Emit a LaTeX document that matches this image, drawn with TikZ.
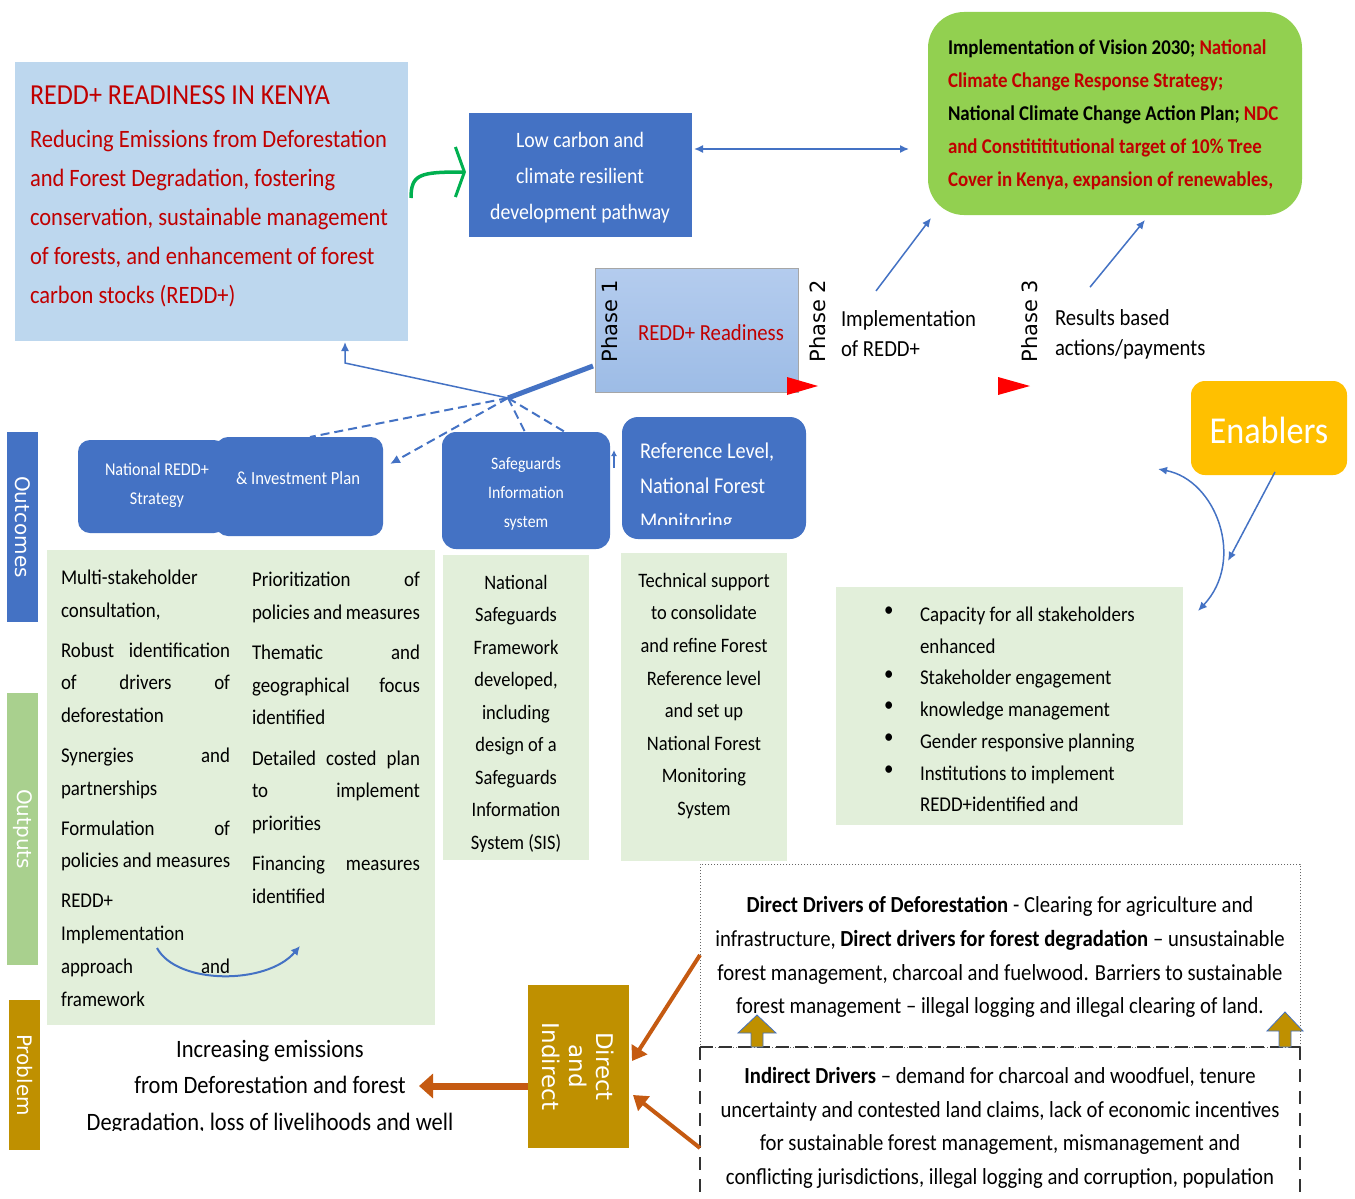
\documentclass[tikz,border=0pt]{standalone}
\usepackage{fontspec}
\setmainfont{Carlito}[FakeStretch=0.9]
\newfontfamily\phfont{DejaVu Sans}
\usetikzlibrary{arrows.meta,calc}
\definecolor{lb}{HTML}{BDD7EE}
\definecolor{db}{HTML}{4472C4}
\definecolor{rd}{HTML}{C00000}
\definecolor{gb}{HTML}{92D050}
\definecolor{og}{HTML}{E2EFDA}
\definecolor{tg}{HTML}{A9D08E}
\definecolor{gd}{HTML}{BF9000}
\definecolor{orr}{HTML}{C55A11}
\definecolor{yl}{HTML}{FFC000}
\definecolor{grn}{HTML}{00B050}
\definecolor{phA}{HTML}{B4CCEE}
\definecolor{phB}{HTML}{9DBCE6}
\begin{document}
\begin{tikzpicture}[x=1pt,y=-1pt,
  every node/.style={inner sep=0pt,outer sep=0pt},
  rect/.style={anchor=north west,draw=none},
  thinarr/.style={draw=db,line width=1.5pt,-{Latex[length=9pt,width=8pt]}},
  dsh/.style={draw=db,line width=2pt,dash pattern=on 9pt off 5pt},
  tabtxt/.style={rotate=-90,text=white,font=\phfont\fontsize{20}{20}\selectfont},
  phtxt/.style={rotate=90,font=\phfont\fontsize{21}{21}\selectfont},
  orarr/.style={draw=orr,line width=4pt,-{Triangle[length=14pt,width=18pt]}},
  gdarr/.style={fill=gd,draw=db,line width=0.8pt}
]
\useasboundingbox (0,0) rectangle (1355,1199);
\fill[white] (0,0) rectangle (1355,1199);

% ---------- top left box
\node[rect,fill=lb,minimum width=393pt,minimum height=279pt] (redd) at (15,62) {};
\node[anchor=north west,align=left,text=rd,font=\fontsize{25}{39}\selectfont] (reddtxt) at (30,86)
 {{\fontsize{29}{39}\selectfont REDD+ READINESS IN KENYA}\\[4pt]
  Reducing Emissions from Deforestation\\
  and Forest Degradation, fostering\\
  conservation, sustainable management\\
  of forests, and enhancement of forest\\
  carbon stocks (REDD+)};

% ---------- low carbon box
\node[rect,fill=db,minimum width=223pt,minimum height=124pt] (low) at (469,113) {};
\node[align=center,text=white,font=\fontsize{22}{36}\selectfont] (lowtxt) at (580,178)
 {Low carbon and\\climate resilient\\development pathway};

\draw[grn,line width=3.5pt,-{Straight Barb[length=9pt,width=50pt,line width=3pt]}]
  ($(redd.north east)+(3,136)$) .. controls ($(redd.north east)+(3,112)$) and ($(redd.north east)+(12,110)$) .. ($(low.north west)+(-3,59)$);

% ---------- green vision box
\node[rect,fill=gb,rounded corners=36pt,minimum width=374pt,minimum height=203pt] (vis) at (928,12) {};
\node[anchor=north west,align=left,font=\bfseries\fontsize{21}{33}\selectfont] (vistxt) at (948,40)
 {Implementation of Vision 2030; \textcolor{rd}{National}\\
  \textcolor{rd}{Climate Change Response Strategy;}\\
  National Climate Change Action Plan; \textcolor{rd}{NDC}\\
  \textcolor{rd}{and Constitititutional target of 10\% Tree}\\
  \textcolor{rd}{Cover in Kenya, expansion of renewables,}};

\draw[draw=db,line width=1.5pt,{Latex[length=9pt,width=8pt]}-{Latex[length=9pt,width=8pt]}]
  ($(low.north east)+(2,36)$) -- ($(vis.north west)+(-19,137)$);

% ---------- phase box
\node[rect,top color=phA,bottom color=phB,draw=gray!70,line width=1pt,minimum width=203pt,minimum height=124pt] (ph1) at (595,268) {};
\node[phtxt] (p1) at (610,321) {Phase 1};
\node[text=rd,font=\fontsize{23}{23}\selectfont] (rr) at (711,333) {REDD+ Readiness};
\node[phtxt] (p2) at (818,321) {Phase 2};
\node[phtxt] (p3) at (1030,321) {Phase 3};
\node[anchor=west,align=left,font=\fontsize{23}{30}\selectfont] (impl) at (841,334) {Implementation\\of REDD+};
\node[anchor=west,align=left,font=\fontsize{23}{30}\selectfont] (res) at (1055,334) {Results based\\actions/payments};
\fill[red] (787,377) -- (818,386) -- (787,395) -- cycle;
\fill[red] (998,377) -- (1030,386) -- (998,395) -- cycle;
\draw[thinarr] ($(impl.north west)+(35,-20)$) -- ($(vis.south west)+(3,3)$);
\draw[thinarr] ($(res.north west)+(35,-22)$) -- ($(vis.south west)+(217,5)$);

% ---------- enablers
\node[rect,fill=yl,rounded corners=14pt,minimum width=156pt,minimum height=94pt] (enab) at (1191,381) {};
\node[text=white,font=\fontsize{38}{38}\selectfont] (enabtxt) at (1269,430) {Enablers};

% ---------- capacity box
\node[rect,fill=og,minimum width=347pt,minimum height=238pt] (cap) at (836,587) {};
\node[anchor=north west,align=left,font=\fontsize{21}{31.7}\selectfont] (captxt) at (920,607)
 {Capacity for all stakeholders\\enhanced\\Stakeholder engagement\\knowledge management\\Gender responsive planning\\Institutions to implement\\REDD+identified and};
\node[anchor=north west,align=left,font=\fontsize{21}{31.7}\selectfont] (capbul) at (884,607)
 {\textbullet\\\mbox{}\\\textbullet\\\textbullet\\\textbullet\\\textbullet};
\draw[thinarr] ($(enab.south west)+(84,-3)$) -- ($(cap.north east)+(45,-26)$);
\draw[draw=db,line width=1.5pt,{Latex[length=9pt,width=8pt]}-{Latex[length=9pt,width=8pt]}]
  ($(enab.south west)+(-33,-6)$) .. controls ($(enab.south west)+(25,5)$) and ($(enab.south west)+(55,85)$) .. ($(cap.north east)+(15,24)$);

% ---------- side tabs
\node[rect,fill=db,minimum width=31pt,minimum height=190pt] (outc) at (7,432) {};
\node[tabtxt] (outct) at (outc.center) {Outcomes};
\node[rect,fill=tg,minimum width=31pt,minimum height=272pt] (outp) at (7,693) {};
\node[tabtxt] (outpt) at (outp.center) {Outputs};
\node[rect,fill=gd,minimum width=31pt,minimum height=150pt] (prob) at (9,1000) {};
\node[tabtxt] (probt) at (prob.center) {Problem};

% ---------- blue outcome boxes
\node[rect,fill=db,rounded corners=12pt,minimum width=148pt,minimum height=93pt] (nrs) at (78,440) {};
\node[align=center,text=white,font=\fontsize{18}{29}\selectfont] (nrst) at (157,485) {National REDD+\\Strategy};
\node[rect,fill=db,rounded corners=12pt,minimum width=167pt,minimum height=99pt] (inv) at (216,437) {};
\node[text=white,font=\fontsize{18.5}{29}\selectfont] (invt) at (298,478) {\& Investment Plan};
\node[rect,fill=db,rounded corners=14pt,minimum width=168pt,minimum height=117pt] (sg) at (442,432) {};
\node[align=center,text=white,font=\fontsize{17.5}{29}\selectfont] (sgt) at (526,494) {Safeguards\\Information\\system};
\node[rect,fill=db,rounded corners=16pt,minimum width=184pt,minimum height=122pt] (ref) at (622,417) {};
\begin{scope}
\clip (622,417) rectangle (806,524);
\node[anchor=north west,align=left,text=white,font=\fontsize{22.5}{35}\selectfont] (reft) at (640,443) {Reference Level,\\National Forest\\Monitoring};
\end{scope}
\draw[draw=db,line width=1.5pt,-{Latex[length=6pt,width=6pt]}] ($(sg.north east)+(4,36)$) -- ($(sg.north east)+(4,18)$);

% ---------- hub connectors
\coordinate (hub) at (508,398);
\draw[db,line width=5pt] ($(ph1.north west)+(-2,98)$) -- (hub);
\draw[thinarr] (hub) -- ($(redd.south west)+(330,22)$) -- ($(redd.south west)+(330,1)$);
\draw[dsh] (hub) -- ($(inv.north west)+(94,0)$);
\draw[dsh,-{Latex[length=10pt,width=9pt]}] (hub) -- ($(inv.north east)+(7,27)$);
\draw[dsh] (hub) -- ($(sg.north west)+(83,0)$);
\draw[dsh] (hub) -- ($(sg.north west)+(123,0)$);

% ---------- output boxes
\node[rect,fill=og,minimum width=388pt,minimum height=475pt] (outL) at (47,550) {};
\node[anchor=north west,align=left,font=\fontsize{21}{32.8}\selectfont] (colA) at (61,570)
 {Multi-stakeholder\\consultation,\\[7pt]
  \makebox[169pt][s]{Robust identification}\\\makebox[169pt][s]{of drivers of}\\deforestation\\[7pt]
  \makebox[169pt][s]{Synergies and}\\partnerships\\[7pt]
  \makebox[169pt][s]{Formulation of}\\policies and measures\\[7pt]
  REDD+\\Implementation\\\makebox[169pt][s]{approach and}\\framework};
\node[anchor=north west,align=left,font=\fontsize{21}{32.5}\selectfont] (colB) at (252,572)
 {\makebox[168pt][s]{Prioritization of}\\\makebox[168pt][s]{policies and measures}\\[8pt]
  \makebox[168pt][s]{Thematic and}\\\makebox[168pt][s]{geographical focus}\\identified\\[8pt]
  \makebox[168pt][s]{Detailed costed plan}\\\makebox[168pt][s]{to implement}\\priorities\\[8pt]
  \makebox[168pt][s]{Financing measures}\\identified};
\draw[db,line width=2pt,-{Latex[length=9pt,width=9pt]}] ($(outL.north west)+(110,398)$) .. controls ($(outL.north west)+(130,435)$) and ($(outL.north west)+(220,435)$) .. ($(outL.north west)+(253,396)$);

\node[rect,fill=og,minimum width=146pt,minimum height=305pt] (sgo) at (443,555) {};
\begin{scope}
\clip (443,555) rectangle (589,851);
\node[anchor=north,align=center,font=\fontsize{20.5}{32.5}\selectfont] (sgot) at (516,575)
 {National\\Safeguards\\Framework\\developed,\\including\\design of a\\Safeguards\\Information\\System (SIS)};
\end{scope}
\node[rect,fill=og,minimum width=166pt,minimum height=308pt] (tso) at (621,553) {};
\node[anchor=north,align=center,font=\fontsize{20.5}{32.6}\selectfont] (tsot) at (704,573)
 {Technical support\\to consolidate\\and refine Forest\\Reference level\\and set up\\National Forest\\Monitoring\\System};

% ---------- drivers boxes
\node[rect,draw=gray!80!black,dotted,line width=1pt,minimum width=600pt,minimum height=183pt] (dd) at (700,864) {};
\node[align=center,font=\fontsize{23}{33.8}\selectfont] (ddt) at (1000,957)
 {\textbf{Direct Drivers of Deforestation} - Clearing for agriculture and\\
  infrastructure, \textbf{Direct drivers for forest degradation} -- unsustainable\\
  forest management, charcoal and fuelwood. Barriers to sustainable\\
  forest management -- illegal logging and illegal clearing of land.};
\draw[black!80,line width=1.6pt,dash pattern=on 13pt off 6pt] (700,1047) -- (1300,1047);
\draw[black!80,line width=1.3pt,dash pattern=on 13pt off 9pt] (700,1047) -- (700,1199);
\draw[black!80,line width=1.3pt,dash pattern=on 13pt off 9pt] (1300,1047) -- (1300,1199);
\node[align=center,font=\fontsize{23}{33.6}\selectfont] (idt) at (1000,1128)
 {\textbf{Indirect Drivers} -- demand for charcoal and woodfuel, tenure\\
  uncertainty and contested land claims, lack of economic incentives\\
  for sustainable forest management, mismanagement and\\
  conflicting jurisdictions, illegal logging and corruption, population};
\filldraw[gdarr] (757,1015) -- (776,1033) -- (763,1033) -- (763,1047) -- (751,1047) -- (751,1033) -- (738,1033) -- cycle;
\filldraw[gdarr] (1285,1012) -- (1303,1031) -- (1291,1031) -- (1291,1047) -- (1279,1047) -- (1279,1031) -- (1267,1031) -- cycle;

% ---------- direct and indirect
\node[rect,fill=gd,minimum width=101pt,minimum height=163pt] (dai) at (528,985) {};
\node[rotate=-90,align=center,text=white,font=\phfont\fontsize{23}{27}\selectfont] (dait) at (dai.center) {Direct\\and\\Indirect};
\draw[orarr] ($(dd.north west)+(0,91)$) -- ($(dai.north east)+(3,76)$);
\draw[orarr] ($(dd.north west)+(0,284)$) -- ($(dai.north east)+(4,110)$);
\draw[draw=orr,line width=7pt,-{Triangle[length=14pt,width=24pt]}] ($(dai.north west)+(0,101)$) -- (419,1086);
\begin{scope}
\clip (40,1020) rectangle (520,1130);
\node[anchor=north,align=center,font=\fontsize{25}{36.5}\selectfont] (inc) at (270,1040)
 {Increasing emissions\\from Deforestation and forest\\Degradation, loss of livelihoods and well};
\end{scope}
\end{tikzpicture}
\end{document}
